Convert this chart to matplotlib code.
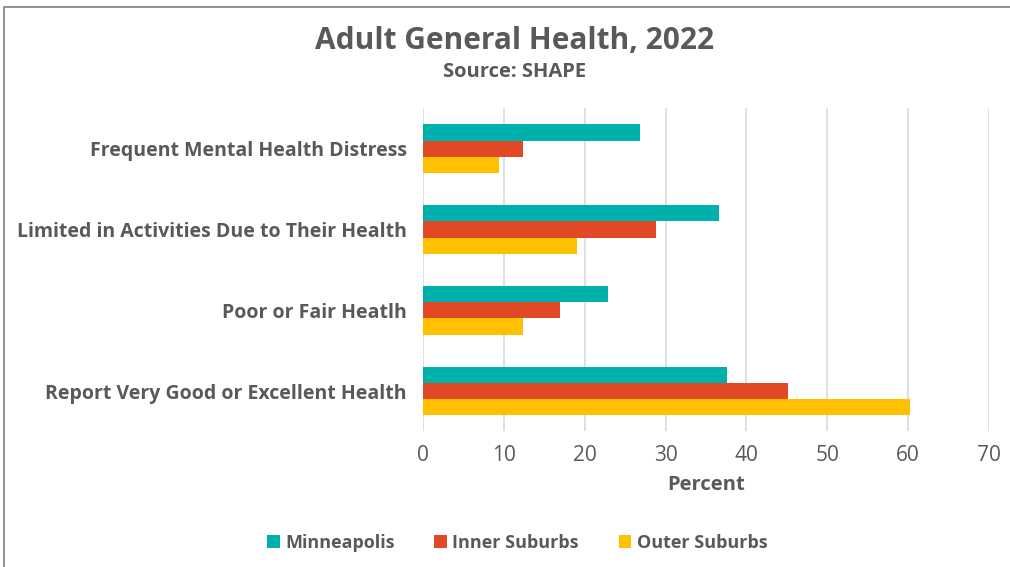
import matplotlib.pyplot as plt
import numpy as np
from matplotlib.patches import Rectangle

# indicadores (de baixo para cima no eixo)
categorias = ["Report Very Good or Excellent Health", "Poor or Fair Heatlh",
              "Limited in Activities Due to Their Health", "Frequent Mental Health Distress"]
minneapolis = [37.6, 22.9, 36.6, 26.8]
inner_suburbs = [45.1, 16.9, 28.8, 12.4]
outer_suburbs = [60.2, 12.4, 19.0, 9.4]

cinza = "#595959"
plt.rcParams['font.family'] = ['Open Sans', 'DejaVu Sans']

fig = plt.figure(figsize=(10.1, 5.67), dpi=100)
ax = fig.add_axes([0.419, 0.239, 0.56, 0.57])

y = np.arange(len(categorias))
h = 0.2
ax.barh(y + h, minneapolis, height=h, color="#00B0AA", label="Minneapolis", zorder=3)
ax.barh(y, inner_suburbs, height=h, color="#E04826", label="Inner Suburbs", zorder=3)
ax.barh(y - h, outer_suburbs, height=h, color="#FFC000", label="Outer Suburbs", zorder=3)

ax.set_xlim(0, 70)
ax.set_ylim(-0.5, 3.5)
ax.set_xticks(range(0, 71, 10))
ax.set_yticks(y)
ax.set_yticklabels(categorias, fontsize=14, fontweight="bold", color=cinza)
ax.tick_params(axis="x", labelsize=15, colors=cinza, length=0, pad=10)
ax.tick_params(axis="y", length=0, pad=12)
ax.grid(axis="x", color="#D9D9D9", linewidth=1.2, zorder=0)
for lado in ["top", "right", "left", "bottom"]:
    ax.spines[lado].set_visible(False)
ax.set_xlabel("Percent", fontsize=14.5, fontweight="bold", color=cinza, labelpad=6)

fig.text(0.509, 0.928, "Adult General Health, 2022", ha="center", va="center",
         fontsize=21.5, fontweight="bold", color=cinza)
fig.text(0.509, 0.873, "Source: SHAPE", ha="center", va="center",
         fontsize=14.5, fontweight="bold", color=cinza)

fig.legend(loc="center", bbox_to_anchor=(0.512, 0.043), ncol=3, frameon=False,
           handlelength=0.7, handleheight=0.7, handletextpad=0.3,
           columnspacing=2.2, labelcolor=cinza, prop={"weight": "bold", "size": 13})

# moldura
fig.patches.append(Rectangle((0.004, -0.1), 1.1, 1.088, transform=fig.transFigure,
                             fill=False, edgecolor="#808080", linewidth=1.2))

plt.savefig("out.png", dpi=100)
